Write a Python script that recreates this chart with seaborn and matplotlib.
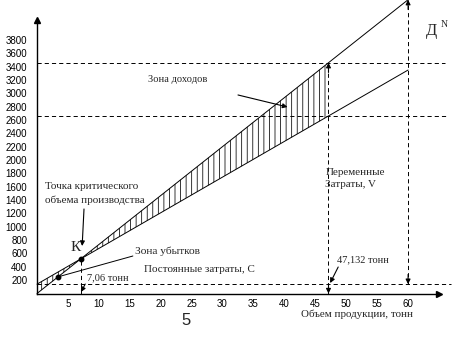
import matplotlib
matplotlib.use("Agg")
import numpy as np
import pandas as pd
import seaborn as sns
import matplotlib.pyplot as plt

# Break-even model (тонны, денежные единицы)
fixed_cost = 140          # постоянные затраты C
unit_var_cost = 53.5      # переменные затраты на тонну
price = 73.4              # выручка на тонну
q_break = 7.06            # критический объём производства
q_plan = 47.132           # объём, тонн
q_capacity = 60           # производственная мощность Д^N
q_loss_mark = 3.4         # точка в зоне убытков

x_ticks = [5, 10, 15, 20, 25, 30, 35, 40, 45, 50, 55, 60]
y_ticks = [200, 400, 600, 800, 1000, 1200, 1400, 1600, 1800, 2000,
           2200, 2400, 2600, 2800, 3000, 3200, 3400, 3600, 3800]


def revenue(q):
    return price * np.asarray(q, dtype=float)


def total_cost(q):
    return fixed_cost + unit_var_cost * np.asarray(q, dtype=float)


sns.set_theme(style="white")
plt.rcParams["font.family"] = ["Liberation Serif", "DejaVu Serif"]
plt.rcParams["hatch.linewidth"] = 0.55
plt.rcParams["hatch.color"] = "black"
plt.rcParams["lines.scale_dashes"] = False

DASH = (0, (3.0, 2.2))
ARROW = dict(arrowstyle="-|>", lw=0.8, color="black", mutation_scale=7,
             shrinkA=0, shrinkB=0)

fig = plt.figure(figsize=(4.77, 3.47), dpi=100)
ax = fig.add_axes([37 / 477, (347 - 293.5) / 347, 402 / 477, 273.5 / 347])
ax.set_facecolor("white")

volumes = [0, q_capacity]
lines_df = pd.DataFrame({
    "volume": volumes + volumes,
    "value": list(revenue(volumes)) + list(total_cost(volumes)),
    "series": ["Выручка"] * 2 + ["Затраты"] * 2,
})
sns.lineplot(data=lines_df, x="volume", y="value", units="series",
             estimator=None, color="black", lw=0.7, ax=ax, legend=False)
for ln in ax.get_lines():
    ln.set_clip_on(False)

# hatched loss and profit zones between the two lines
zone_q = np.array([0, q_break, q_plan])
ax.fill_between(zone_q, revenue(zone_q), total_cost(zone_q),
                facecolor="none", edgecolor="black", hatch="|||", lw=0)

# horizontal reference levels
ax.plot([0, 66.0], [revenue(q_plan)] * 2, ls=DASH, color="black", lw=0.7, clip_on=False)
ax.plot([0, 66.5], [total_cost(q_plan)] * 2, ls=DASH, color="black", lw=0.7, clip_on=False)
ax.plot([0, 66.9], [fixed_cost] * 2, ls=DASH, color="black", lw=0.7, clip_on=False)

# vertical reference lines
ax.plot([q_break, q_break], [0, revenue(q_break)], ls=DASH, color="black", lw=0.7)
ax.plot([q_plan, q_plan], [0, revenue(q_plan)], ls=DASH, color="black", lw=0.7, clip_on=False)
ax.plot([q_capacity, q_capacity], [fixed_cost, revenue(q_capacity)], ls=DASH,
        color="black", lw=0.7, clip_on=False)

# arrowheads on the vertical lines
for q, y, dy in [(q_plan, revenue(q_plan), -7), (q_plan, 0, 7),
                 (q_capacity, revenue(q_capacity), -7), (q_capacity, fixed_cost, 7)]:
    ax.annotate("", xy=(q, y), xytext=(0, dy), textcoords="offset points",
                arrowprops=ARROW, annotation_clip=False)

# marked points
ax.plot([q_break], [revenue(q_break)], "o", color="black", ms=3.2)
ax.plot([q_loss_mark], [revenue(q_loss_mark)], "o", color="black", ms=3.2)

# annotations
ax.text(1.3, 1597, "Точка критического", fontsize=8.0, va="center", ha="left")
ax.text(1.3, 1395, "объема производства", fontsize=8.0, va="center", ha="left")
ax.annotate("", xy=(7.3, 712), xytext=(7.6, 1267), arrowprops=ARROW)
ax.text(6.2, 697, "К", fontsize=11, va="center", ha="center")

ax.plot([q_loss_mark, 15.5], [revenue(q_loss_mark), 562], color="black", lw=0.7)
ax.text(15.9, 637, "Зона убытков", fontsize=8.2, va="center", ha="left")
ax.text(17.3, 367, "Постоянные затраты, C", fontsize=8.0, va="center", ha="left")

ax.text(8.1, 232, "7,06 тонн", fontsize=7.5, va="center", ha="left")
ax.annotate("", xy=(7.1, 22), xytext=(7.8, 142), arrowprops=ARROW)

ax.text(48.5, 502, "47,132 тонн", fontsize=7.5, va="center", ha="left")
ax.annotate("", xy=(47.4, 157), xytext=(48.7, 397), arrowprops=ARROW)

ax.text(18.0, 3215, "Зона доходов", fontsize=7.6, va="center", ha="left")
ax.annotate("", xy=(40.5, 2796), xytext=(32.5, 2976), arrowprops=ARROW)

ax.text(46.6, 1821, "Переменные", fontsize=7.9, va="center", ha="left")
ax.text(46.6, 1641, "Затраты, V", fontsize=7.9, va="center", ha="left")

ax.text(62.8, 3935, "Д", fontsize=12, va="center", ha="left")
ax.text(65.2, 4040, "N", fontsize=7, va="center", ha="left")

ax.text(42.7, -307, "Объем продукции, тонн", fontsize=7.9, va="center", ha="left")
ax.text(24.1, -412, "5", fontsize=12, va="center", ha="center",
        family=["Liberation Sans", "DejaVu Sans"])

# axes with arrow ends
ax.set_xlim(0, 65)
ax.set_ylim(0, 4100)
ax.set_xticks(x_ticks)
ax.set_yticks(y_ticks)
ax.set_xlabel("")
ax.set_ylabel("")
for side in ("top", "right"):
    ax.spines[side].set_visible(False)
for side in ("left", "bottom"):
    ax.spines[side].set_color("black")
    ax.spines[side].set_linewidth(1.0)
ax.tick_params(axis="y", direction="inout", length=8, width=0.9, pad=3.0,
               labelsize=7, colors="black")
ax.tick_params(axis="x", direction="inout", length=6.5, width=0.9, pad=1.0,
               labelsize=7, colors="black")
for lab in ax.get_xticklabels() + ax.get_yticklabels():
    lab.set_fontfamily(["Liberation Sans", "DejaVu Sans"])
ax.plot(1, 0, ">", color="black", ms=5, transform=ax.get_yaxis_transform(), clip_on=False)
ax.plot(0, 1, "^", color="black", ms=5, transform=ax.get_xaxis_transform(), clip_on=False)
ax.grid(False)

fig.savefig("out.png", dpi=100, facecolor="white")
